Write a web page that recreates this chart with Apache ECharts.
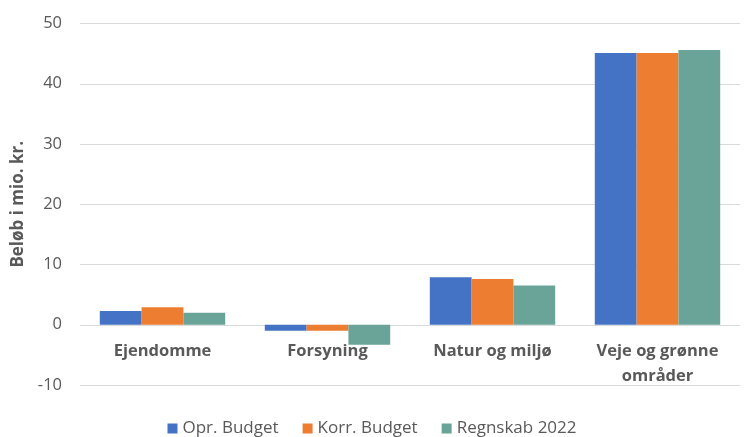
<!DOCTYPE html>
<html>
<head>
<meta charset="utf-8">
<script src="https://cdn.jsdelivr.net/npm/echarts@6/dist/echarts.min.js"></script>
<style>
  html, body { margin: 0; padding: 0; background: #fff; }
  #chart { width: 744px; height: 437px; }
</style>
</head>
<body>
<div id="chart"></div>
<script>
// kategorier og værdier (mio. kr.)
const categories = ['Ejendomme', 'Forsyning', 'Natur og miljø', 'Veje og grønne\nområder']
const oprBudget = [2.3, -1.0, 7.9, 45.1]
const korrBudget = [2.9, -1.0, 7.6, 45.1]
const regnskab = [2.0, -3.3, 6.5, 45.6]
const seriesNames = ['Opr. Budget', 'Korr. Budget', 'Regnskab 2022']

const font = 'Open Sans'
const textColor = '#595959'

const gridTop = 23.5
const gridBottom = 52
const plotHeight = 437 - gridTop - gridBottom
// x-aksens etiketter skal sidde under nul-linjen, ikke i bunden
const zeroOffset = -plotHeight * 10 / 60

const chart = echarts.init(document.getElementById('chart'))

function bar(name, data, color) {
  return {
    name,
    type: 'bar',
    data,
    barGap: '0%',
    barCategoryGap: '24%',
    itemStyle: { color },
  }
}

chart.setOption({
  animation: false,
  textStyle: { fontFamily: font },
  grid: { left: 80, right: 4, top: gridTop, bottom: gridBottom, outerBoundsMode: 'none', containLabel: false },
  legend: {
    data: seriesNames,
    top: 415,
    left: 'center',
    itemWidth: 10,
    itemHeight: 10,
    itemGap: 24,
    icon: 'rect',
    textStyle: { color: textColor, fontSize: 17, fontFamily: font },
  },
  xAxis: {
    type: 'category',
    data: categories,
    position: 'bottom',
    offset: zeroOffset,
    axisLine: { show: false, onZero: false },
    axisTick: { show: false },
    axisLabel: {
      color: textColor,
      fontSize: 16.5,
      fontWeight: 'bold',
      margin: 14,
      lineHeight: 25,
      fontFamily: font,
    },
  },
  yAxis: {
    type: 'value',
    min: -10,
    max: 50,
    interval: 10,
    name: 'Beløb i mio. kr.',
    nameLocation: 'middle',
    nameGap: 53,
    nameTextStyle: { color: textColor, fontSize: 17, fontWeight: 'bold', fontFamily: font },
    axisLine: { show: false },
    axisTick: { show: false },
    axisLabel: { color: textColor, fontSize: 16.5, margin: 18, fontFamily: font },
    splitLine: { lineStyle: { color: '#d9d9d9' } },
  },
  series: [
    bar(seriesNames[0], oprBudget, '#4472C4'),
    bar(seriesNames[1], korrBudget, '#ED7D31'),
    bar(seriesNames[2], regnskab, '#6AA397'),
  ],
})
</script>
</body>
</html>
